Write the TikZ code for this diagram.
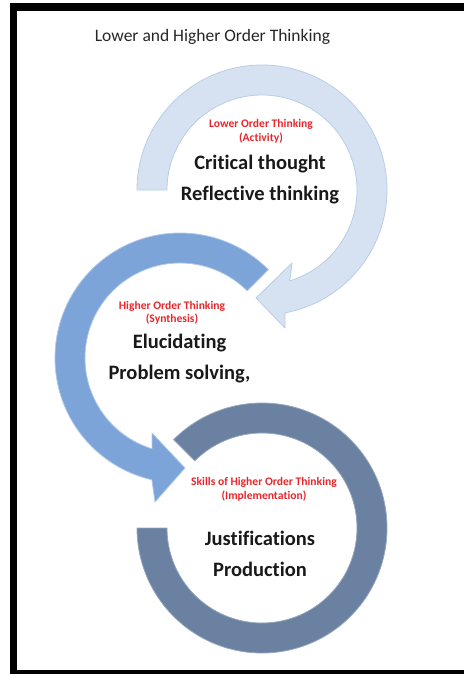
\documentclass[tikz,border=0pt]{standalone}
\usepackage{fontspec}
\setmainfont[Ligatures=NoCommon]{Carlito}
\usepackage{tikz}
\usepackage{xcolor}
\definecolor{ringlight}{HTML}{D6E2F1}
\definecolor{ringlightedge}{HTML}{B9CDE5}
\definecolor{ringmid}{HTML}{7CA4D8}
\definecolor{ringdark}{HTML}{6B81A2}
\definecolor{labelred}{HTML}{E8262B}

\begin{document}
\begin{tikzpicture}[x=1pt, y=1pt,
    ring/.style={line width=0.8pt, line join=round},
    redlabel/.style={text=labelred, font=\bfseries\fontsize{11.6}{13.5}\selectfont, align=center, inner sep=0pt},
    bigtext/.style={text=black!90, font=\bfseries\fontsize{20.5}{31}\selectfont, align=center, inner sep=0pt}]
\useasboundingbox (0,0) rectangle (464,-674);
\fill (10,-3) rectangle (464,-11);
\fill (10,-3) rectangle (17,-674);
\fill (10,-670) rectangle (464,-674);

\node[text=black!85, font=\fontsize{17.5}{21}\selectfont, inner sep=0pt] (title) at (212.5,-37) {Lower and Higher Order Thinking};

\coordinate (ctop) at (262,-190);
\coordinate (cmid) at (180,-358);
\coordinate (cbot) at (262,-528);

\filldraw[ring, fill=ringdark, draw=ringdark!70!white] ([shift={(135:125)}]cbot) arc[start angle=135, end angle=-180, radius=125]
    -- ([shift={(180:95)}]cbot) arc[start angle=-180, end angle=135, radius=95] -- cycle;
\filldraw[ring, fill=ringmid, draw=ringmid!60!white] ([shift={(45:125)}]cmid) arc[start angle=45, end angle=257, radius=125]
    -- (155,-502) -- (185,-468) -- (152,-433)
    -- ([shift={(252.9:95)}]cmid) arc[start angle=252.9, end angle=45, radius=95] -- cycle;
\filldraw[ring, fill=ringlight, draw=ringlightedge] ([shift={(180:125)}]ctop) arc[start angle=180, end angle=-79.4, radius=125]
    -- (285,-328) -- (256,-298) -- (292,-263)
    -- ([shift={(-73:95)}]ctop) arc[start angle=-73, end angle=180, radius=95] -- cycle;

\node[redlabel] (activity) at (261,-131.5) {Lower Order Thinking\\(Activity)};
\node[bigtext] (lower) at (260,-180) {Critical thought\\Reflective thinking};
\node[redlabel] (synthesis) at (172,-313) {Higher Order Thinking\\(Synthesis)};
\node[bigtext] (higher) at (179.5,-359) {Elucidating\\Problem solving,};
\node[redlabel] (implementation) at (264,-489.5) {Skills of Higher Order Thinking\\(Implementation)};
\node[bigtext] (skills) at (260,-553.5) {Justifications\\Production};
\end{tikzpicture}
\end{document}
